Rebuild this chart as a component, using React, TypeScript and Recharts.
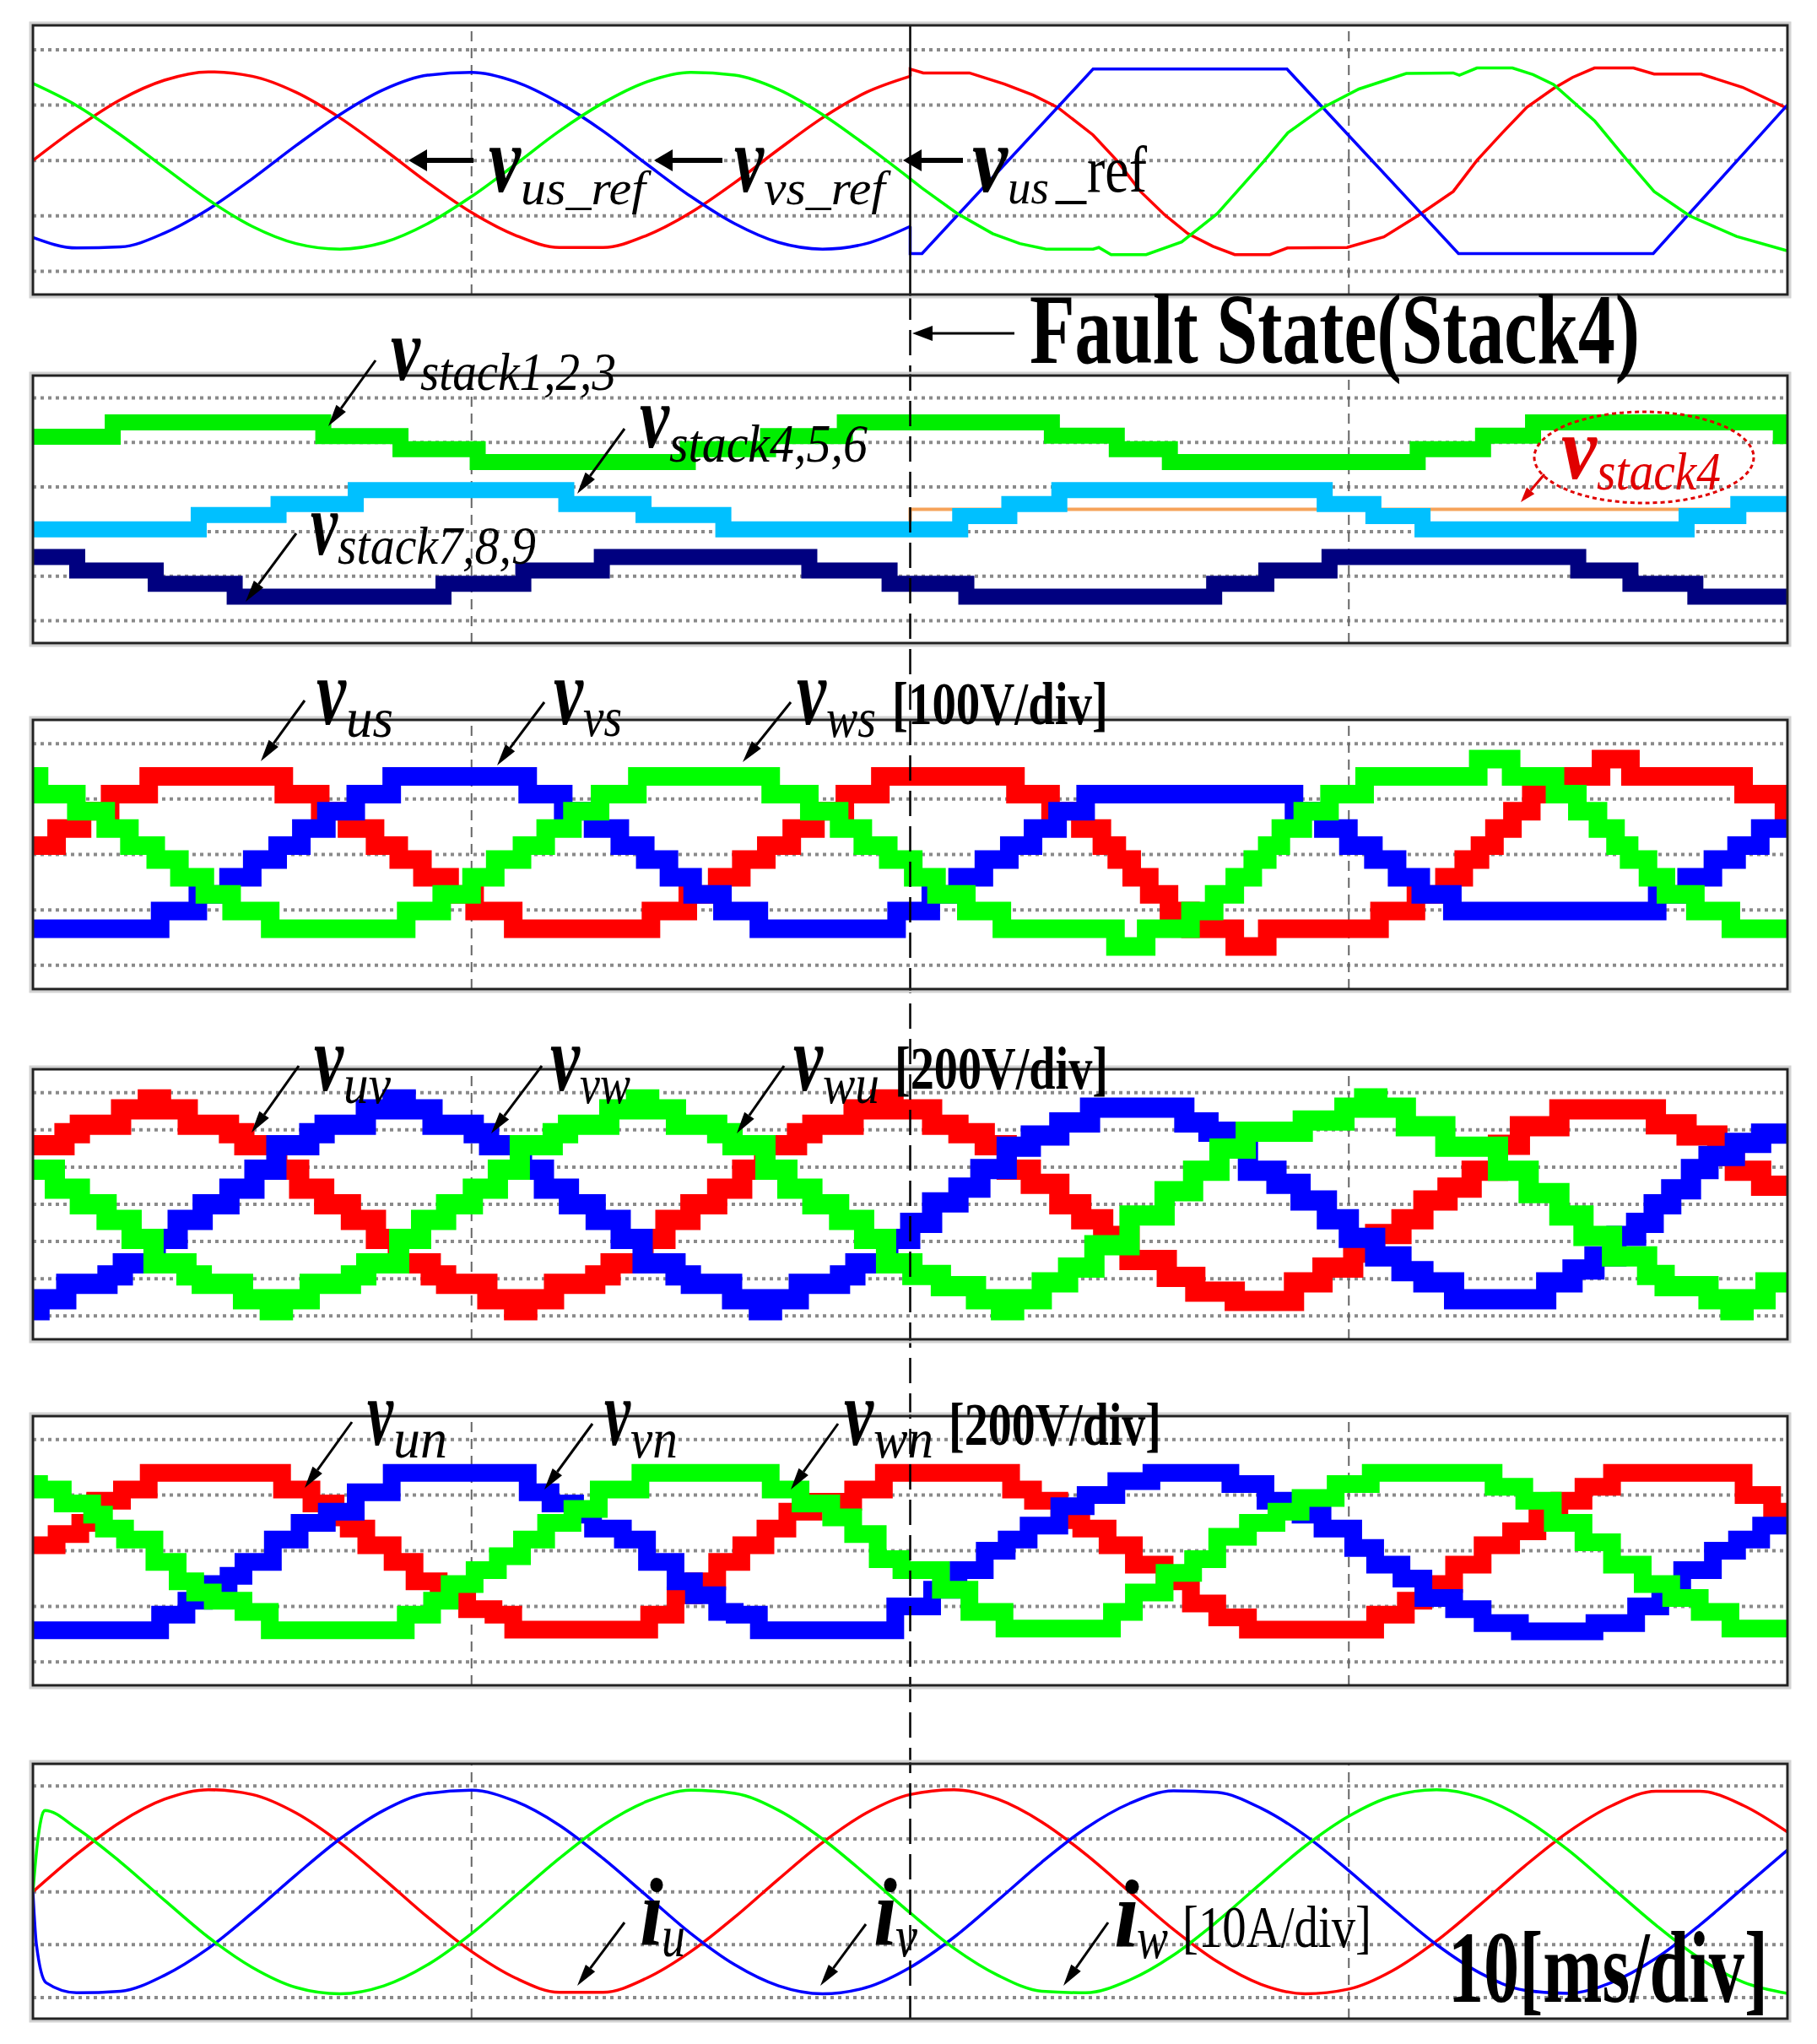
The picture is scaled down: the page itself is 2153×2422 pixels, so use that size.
import React from 'react';
import { LineChart, Line, XAxis, YAxis, ReferenceLine } from 'recharts';

// time in ms (10 ms/div), values in divisions of each panel

// panel 1: voltage references
const P1_U_PRE = [[0,0],[1,0.59],[2,1.1],[3,1.45],[4,1.6],[5,1.52],[6,1.23],[7,0.77],[8,0.2],[9,-0.4],[10,-0.94],[11,-1.35],[12,-1.57],[13,-1.57],[14,-1.35],[15,-0.94],[16,-0.4],[17,0.2],[18,0.77],[19,1.23],[20,1.52]];
const P1_V_PRE = [[0,-1.39],[1,-1.58],[2,-1.56],[3,-1.31],[4,-0.88],[5,-0.33],[6,0.27],[7,0.83],[8,1.28],[9,1.54],[10,1.59],[11,1.42],[12,1.04],[13,0.53],[14,-0.07],[15,-0.65],[16,-1.14],[17,-1.48],[18,-1.6],[19,-1.5],[20,-1.19]];
const P1_W_PRE = [[0,1.39],[1,0.99],[2,0.46],[3,-0.13],[4,-0.71],[5,-1.19],[6,-1.5],[7,-1.6],[8,-1.48],[9,-1.14],[10,-0.65],[11,-0.07],[12,0.53],[13,1.04],[14,1.42],[15,1.59],[16,1.54],[17,1.28],[18,0.83],[19,0.27],[20,-0.33]];
const P1_U_POST = [[20,1.52],[20,1.65],[20.3,1.58],[21.35,1.58],[22.15,1.38],[22.8,1.18],[23.36,0.96],[24.17,0.46],[24.71,0],[25.25,-0.56],[25.8,-0.98],[26.33,-1.32],[26.9,-1.55],[27.4,-1.7],[28.2,-1.7],[28.6,-1.58],[29.96,-1.57],[30.8,-1.38],[31.57,-1.0],[32.38,-0.56],[32.92,0],[33.5,0.5],[34.06,0.96],[34.67,1.3],[35.1,1.5],[35.6,1.67],[36.49,1.67],[36.96,1.56],[38.03,1.56],[38.98,1.32],[39.95,0.96],[40,0.93]];
const P1_V_POST = [[20,-1.19],[20,-1.68],[20.27,-1.68],[24.17,1.65],[28.59,1.65],[32.5,-1.68],[36.94,-1.68],[39.95,0.96],[40,1.0]];
const P1_W_POST = [[20,-0.33],[20.27,-0.5],[21.08,-0.96],[21.88,-1.32],[22.5,-1.5],[23.1,-1.6],[24.17,-1.6],[24.3,-1.57],[24.58,-1.7],[25.38,-1.7],[26.19,-1.47],[27.0,-0.96],[28.08,0],[28.61,0.5],[29.42,0.96],[30.23,1.29],[31.31,1.57],[32.38,1.58],[32.52,1.54],[32.92,1.67],[33.73,1.67],[34.2,1.55],[34.67,1.37],[35.61,0.71],[36.35,0],[36.96,-0.56],[37.77,-1.0],[38.84,-1.37],[39.95,-1.62],[40,-1.63]];

// panel 2: stack voltages (step levels)
const P2_STACK123 = [[0,4.63],[1.82,4.95],[6.62,4.64],[8.38,4.35],[10.14,4.06],[14.93,4.35],[16.76,4.64],[18.51,4.95],[23.23,4.65],[24.71,4.35],[25.92,4.06],[31.57,4.35],[33.06,4.65],[34.2,4.95],[39.85,4.64],[40,4.64]];
const P2_STACK456 = [[0,2.55],[3.78,2.87],[5.6,3.12],[7.36,3.43],[12.16,3.12],[13.92,2.87],[15.74,2.55],[21.14,2.85],[22.26,3.12],[23.4,3.43],[29.45,3.12],[30.56,2.85],[31.68,2.55],[37.7,2.85],[38.88,3.12],[40,3.12]];
const P2_STACK789 = [[0,1.93],[1.01,1.63],[2.8,1.33],[4.6,1.04],[9.36,1.33],[11.18,1.63],[12.97,1.93],[17.7,1.63],[19.53,1.33],[21.28,1.04],[26.93,1.33],[28.12,1.63],[29.56,1.93],[35.23,1.63],[36.42,1.33],[37.9,1.04],[40,1.04]];
const P2_STACK4 = [[20,2.6],[20,3.0],[40,3.0]];

// panel 3: phase voltages v_us, v_vs, v_ws (100 V/div)
const P3_US = [[0,0.16],[0.54,0.47],[1.12,0.78],[1.76,1.09],[2.64,1.41],[5.72,1.09],[6.55,0.78],[7.16,0.47],[7.8,0.16],[8.34,-0.09],[8.88,-0.41],[9.5,-0.72],[10.07,-1.02],[10.95,-1.34],[14.09,-1.02],[14.93,-0.72],[15.6,-0.41],[16.15,-0.09],[16.72,0.16],[17.3,0.47],[17.84,0.78],[18.51,1.09],[19.32,1.41],[22.4,1.09],[23.2,0.78],[23.88,0.47],[24.37,0.16],[24.71,-0.09],[25.05,-0.41],[25.45,-0.72],[25.9,-1.02],[26.39,-1.34],[27.4,-1.66],[28.14,-1.34],[30.7,-1.02],[31.53,-0.72],[32.18,-0.41],[32.62,-0.09],[32.99,0.16],[33.32,0.47],[33.73,0.78],[34.16,1.09],[34.74,1.41],[35.75,1.72],[36.42,1.41],[39.0,1.09],[39.92,0.78],[40,0.78]];
const P3_VS = [[0,-1.34],[2.9,-1.02],[3.76,-0.72],[4.46,-0.41],[5.0,-0.09],[5.58,0.16],[6.12,0.47],[6.69,0.78],[7.36,1.09],[8.18,1.41],[11.28,1.09],[12.09,0.78],[12.77,0.47],[13.38,0.16],[13.96,-0.09],[14.5,-0.41],[15.04,-0.72],[15.72,-1.02],[16.55,-1.34],[19.69,-1.02],[20.47,-0.72],[21.08,-0.41],[21.68,-0.09],[22.26,0.16],[22.8,0.47],[23.36,0.78],[24.0,1.09],[28.75,0.78],[29.42,0.47],[29.99,0.16],[30.56,-0.09],[31.1,-0.41],[31.64,-0.72],[32.36,-1.02],[37.03,-0.72],[37.7,-0.41],[38.3,-0.09],[38.84,0.16],[39.38,0.47],[40,0.47]];
const P3_WS = [[0,1.41],[0.14,1.09],[0.99,0.78],[1.66,0.47],[2.2,0.16],[2.8,-0.09],[3.34,-0.41],[3.92,-0.72],[4.53,-1.02],[5.41,-1.34],[8.51,-1.02],[9.32,-0.72],[10.0,-0.41],[10.54,-0.09],[11.15,0.16],[11.69,0.47],[12.3,0.78],[12.93,1.09],[13.78,1.41],[16.82,1.09],[17.7,0.78],[18.38,0.47],[18.92,0.16],[19.5,-0.09],[20.07,-0.41],[20.6,-0.72],[21.28,-1.02],[22.09,-1.34],[24.68,-1.66],[25.38,-1.34],[26.39,-1.02],[26.93,-0.72],[27.4,-0.41],[27.81,-0.09],[28.14,0.16],[28.45,0.47],[28.95,0.78],[29.56,1.09],[30.36,1.41],[32.95,1.72],[33.7,1.41],[34.7,1.09],[35.21,0.78],[35.68,0.47],[36.08,0.16],[36.39,-0.09],[36.82,-0.41],[37.23,-0.72],[37.9,-1.02],[38.71,-1.34],[40,-1.34]];

// panel 4: line voltages v_uv, v_vw, v_wu (200 V/div)
const P4_UV = [[0,1.59],[0.72,1.91],[1.07,2.14],[2.01,2.55],[2.62,2.82],[2.92,2.55],[3.53,2.14],[4.47,1.91],[4.82,1.59],[5.57,0.93],[6.07,0.42],[6.64,0],[7.25,-0.42],[7.82,-0.93],[8.32,-1.59],[9.07,-1.91],[9.42,-2.14],[10.36,-2.55],[10.97,-2.85],[11.27,-2.55],[11.88,-2.14],[12.82,-1.91],[13.17,-1.59],[13.92,-0.93],[14.42,-0.42],[14.99,0],[15.6,0.42],[16.17,0.93],[16.67,1.59],[17.42,1.91],[17.77,2.14],[18.71,2.55],[19.32,2.82],[19.62,2.55],[20.5,2.14],[21.1,1.91],[21.7,1.59],[22.2,0.93],[22.75,0.55],[23.4,0],[23.9,-0.4],[24.4,-0.85],[25.0,-1.5],[25.85,-1.95],[26.5,-2.35],[27.4,-2.6],[28.75,-2.1],[29.4,-1.7],[30.1,-1.3],[30.6,-0.8],[31.2,-0.4],[31.7,0.1],[32.25,0.45],[32.8,0.9],[33.4,1.6],[33.9,2.1],[34.8,2.55],[37.0,2.15],[37.7,1.85],[38.4,1.3],[38.8,0.9],[39.4,0.5],[40,0.5]];
const P4_VW = [[0,-2.85],[0.15,-2.55],[0.76,-2.14],[1.7,-1.91],[2.05,-1.59],[2.8,-0.93],[3.3,-0.42],[3.87,0],[4.48,0.42],[5.05,0.93],[5.55,1.59],[6.3,1.91],[6.65,2.14],[7.59,2.55],[8.2,2.82],[8.5,2.55],[9.11,2.14],[10.05,1.91],[10.4,1.59],[11.15,0.93],[11.65,0.42],[12.22,0],[12.83,-0.42],[13.4,-0.93],[13.9,-1.59],[14.65,-1.91],[15.0,-2.14],[15.94,-2.55],[16.55,-2.85],[16.85,-2.55],[17.46,-2.14],[18.4,-1.91],[18.75,-1.59],[19.5,-0.93],[20,-0.5],[20.5,0.05],[21.1,0.45],[21.6,0.95],[22.2,1.55],[22.75,1.85],[23.4,2.2],[24.1,2.6],[26.25,2.2],[26.8,1.95],[27.3,1.55],[27.7,0.9],[28.35,0.55],[28.9,0.1],[29.5,-0.4],[30.0,-0.9],[30.6,-1.4],[31.2,-1.8],[31.7,-2.1],[32.4,-2.55],[34.5,-2.1],[35.1,-1.75],[35.6,-1.4],[36.1,-0.85],[36.55,-0.5],[36.95,0],[37.35,0.4],[37.8,0.95],[38.2,1.3],[38.8,1.65],[39.4,1.9],[40,1.9]];
const P4_WU = [[0,0.93],[0.5,0.42],[1.07,0],[1.68,-0.42],[2.25,-0.93],[2.75,-1.59],[3.5,-1.91],[3.85,-2.14],[4.79,-2.55],[5.4,-2.85],[5.7,-2.55],[6.31,-2.14],[7.25,-1.91],[7.6,-1.59],[8.35,-0.93],[8.85,-0.42],[9.42,0],[10.03,0.42],[10.6,0.93],[11.1,1.59],[11.85,1.91],[12.2,2.14],[13.14,2.55],[13.75,2.82],[14.05,2.55],[14.66,2.14],[15.6,1.91],[15.95,1.59],[16.7,0.93],[17.2,0.42],[17.77,0],[18.38,-0.42],[18.95,-0.93],[19.45,-1.59],[20.05,-1.9],[20.7,-2.2],[21.5,-2.55],[22.07,-2.85],[22.37,-2.55],[23.0,-2.1],[23.6,-1.7],[24.2,-1.1],[25.0,-0.3],[25.8,0.35],[26.45,0.9],[27.05,1.5],[27.65,1.95],[28.95,2.25],[29.9,2.6],[30.35,2.85],[30.65,2.6],[31.3,2.1],[32.2,1.55],[33.4,0.9],[34.1,0.3],[34.8,-0.3],[35.35,-0.85],[36.0,-1.4],[36.8,-1.9],[37.2,-2.2],[38.2,-2.55],[38.7,-2.85],[39.0,-2.55],[39.5,-2.1],[40,-2.1]];

// panel 5: phase-to-neutral voltages v_un, v_vn, v_wn (200 V/div)
const P5_UN = [[0,0.1],[0.54,0.3],[1.08,0.5],[1.42,0.9],[2.03,1.1],[2.64,1.4],[5.68,1.1],[6.35,0.85],[6.9,0.6],[7.2,0.4],[7.6,0.1],[8.2,-0.2],[8.7,-0.55],[9.25,-0.8],[9.9,-1.05],[10.5,-1.15],[10.95,-1.42],[14.05,-1.15],[14.65,-0.8],[15.07,-0.55],[15.6,-0.2],[16.15,0.1],[16.7,0.4],[17.2,0.7],[17.8,0.88],[18.7,1.1],[19.4,1.4],[22.3,1.1],[22.8,0.9],[23.4,0.55],[23.9,0.4],[24.5,0.1],[25.1,-0.25],[25.8,-0.55],[26.4,-0.95],[27.0,-1.2],[27.7,-1.42],[30.6,-1.15],[31.3,-0.9],[31.7,-0.6],[32.4,-0.25],[33.05,0.1],[33.7,0.35],[34.3,0.65],[34.8,0.9],[35.35,1.15],[36.0,1.4],[39.0,1.0],[39.65,0.7],[40,0.7]];
const P5_VN = [[0,-1.43],[2.9,-1.15],[3.5,-0.9],[3.9,-0.6],[4.46,-0.45],[4.8,-0.2],[5.47,0.2],[6.08,0.5],[6.7,0.7],[7.36,1.05],[8.18,1.4],[11.28,1.05],[11.8,0.85],[12.36,0.65],[12.77,0.4],[13.45,0.2],[14.0,-0.2],[14.65,-0.55],[15.07,-0.8],[15.6,-1.1],[16.0,-1.15],[16.55,-1.43],[19.66,-1.0],[20.5,-0.7],[21.1,-0.35],[21.7,0.0],[22.2,0.2],[22.7,0.45],[23.4,0.8],[24.0,1.0],[24.7,1.25],[25.5,1.4],[27.3,1.2],[28.1,0.9],[28.9,0.65],[29.4,0.4],[30.1,0.05],[30.6,-0.25],[31.2,-0.5],[31.7,-0.85],[32.4,-1.05],[33.05,-1.3],[33.9,-1.45],[35.6,-1.3],[36.55,-1.0],[37.1,-0.75],[37.6,-0.35],[38.3,0.0],[38.85,0.2],[39.4,0.45],[40,0.45]];
const P5_WN = [[0,1.2],[0.14,1.1],[0.68,0.85],[1.35,0.65],[1.62,0.4],[2.1,0.2],[2.77,-0.2],[3.3,-0.55],[3.7,-0.75],[4.1,-0.9],[4.8,-1.1],[5.4,-1.43],[8.5,-1.15],[9.1,-0.9],[9.5,-0.6],[10.07,-0.35],[10.6,-0.1],[11.15,0.2],[11.7,0.5],[12.3,0.75],[12.9,1.1],[13.85,1.4],[16.82,1.1],[17.5,0.85],[18.2,0.6],[18.7,0.3],[19.26,-0.15],[19.8,-0.35],[20.7,-0.7],[21.35,-1.1],[22.15,-1.4],[24.6,-1.1],[25.1,-0.75],[25.8,-0.4],[26.45,-0.15],[27.0,0.25],[27.7,0.5],[28.35,0.7],[28.9,0.95],[29.7,1.2],[30.5,1.4],[33.3,1.15],[34.0,0.9],[34.65,0.5],[35.35,0.15],[36.0,-0.25],[36.7,-0.6],[37.35,-0.85],[38.0,-1.1],[38.7,-1.4],[40,-1.4]];

// panel 6: phase currents (10 A/div)
const P6_IU = [[0,0],[1,0.71],[2,1.32],[3,1.75],[4,1.93],[5,1.84],[6,1.49],[7,0.93],[8,0.24],[9,-0.48],[10,-1.13],[11,-1.63],[12,-1.9],[13,-1.9],[14,-1.63],[15,-1.13],[16,-0.48],[17,0.24],[18,0.93],[19,1.49],[20,1.84],[21,1.93],[22,1.75],[23,1.32],[24,0.71],[25,0],[26,-0.71],[27,-1.32],[28,-1.75],[29,-1.93],[30,-1.84],[31,-1.49],[32,-0.93],[33,-0.24],[34,0.48],[35,1.13],[36,1.63],[37,1.9],[38,1.9],[39,1.63],[40,1.13]];
const P6_IV = [[0,0],[0.08,-1.0],[0.3,-1.72],[1,-1.91],[2,-1.88],[3,-1.58],[4,-1.07],[5,-0.4],[6,0.32],[7,1.0],[8,1.54],[9,1.86],[10,1.92],[11,1.71],[12,1.26],[13,0.63],[14,-0.08],[15,-0.79],[16,-1.38],[17,-1.78],[18,-1.93],[19,-1.81],[20,-1.43],[21,-0.86],[22,-0.16],[23,0.56],[24,1.2],[25,1.67],[26,1.91],[27,1.88],[28,1.58],[29,1.07],[30,0.4],[31,-0.32],[32,-1.0],[33,-1.54],[34,-1.86],[35,-1.92],[36,-1.71],[37,-1.26],[38,-0.63],[39,0.08],[40,0.79]];
const P6_IW = [[0,0],[0.1,0.9],[0.27,1.54],[1,1.2],[2,0.56],[3,-0.16],[4,-0.86],[5,-1.43],[6,-1.81],[7,-1.93],[8,-1.78],[9,-1.38],[10,-0.79],[11,-0.08],[12,0.63],[13,1.26],[14,1.71],[15,1.92],[16,1.86],[17,1.54],[18,1.0],[19,0.32],[20,-0.4],[21,-1.07],[22,-1.58],[23,-1.88],[24,-1.91],[25,-1.67],[26,-1.2],[27,-0.56],[28,0.16],[29,0.86],[30,1.43],[31,1.81],[32,1.93],[33,1.78],[34,1.38],[35,0.79],[36,0.08],[37,-0.63],[38,-1.26],[39,-1.71],[40,-1.92]];

const RED = '#ff0000';
const GREEN = '#00ff00';
const BLUE = '#0000ff';
const SERIF = '"Liberation Serif", "Times New Roman", "DejaVu Serif", serif';

const PLOT_X = 39;
const PLOT_W = 2079;
const FAULT_X = PLOT_X + PLOT_W / 2;

const PANELS = [
  { top: 30, height: 319, domain: [-2.42, 2.44], hLines: [-2, -1, 0, 1, 2] },
  { top: 445, height: 317, domain: [0, 6], hLines: [0.5, 1.5, 2.5, 3.5, 4.5, 5.5] },
  { top: 853, height: 319, domain: [-2.43, 2.43], hLines: [-2, -1, 0, 1, 2] },
  { top: 1267, height: 320, domain: [-3.63, 3.63], hLines: [-3, -2, -1, 0, 1, 2, 3] },
  { top: 1678, height: 319, domain: [-2.42, 2.42], hLines: [-2, -1, 0, 1, 2] },
  { top: 2090, height: 302, domain: [-2.4, 2.42], hLines: [-2, -1, 0, 1, 2] },
];

const pts = (a: number[][]) => a.map(([t, v]) => ({ t, v }));

function trace(key: string, data: number[][], color: string, width: number, type: any) {
  return (
    <Line
      key={key}
      data={pts(data)}
      dataKey="v"
      type={type}
      stroke={color}
      strokeWidth={width}
      strokeLinejoin="miter"
      dot={false}
      activeDot={false}
      isAnimationActive={false}
    />
  );
}

function Panel({ index, children }: { index: number; children: React.ReactNode }) {
  const p = PANELS[index];
  return (
    <div style={{ position: 'absolute', left: PLOT_X, top: p.top }}>
      <LineChart width={PLOT_W} height={p.height} margin={{ top: 0, right: 0, bottom: 0, left: 0 }}>
        <XAxis type="number" dataKey="t" domain={[0, 40]} hide allowDataOverflow />
        <YAxis type="number" domain={p.domain} hide allowDataOverflow />
        {p.hLines.map((y) => (
          <ReferenceLine key={y} y={y} stroke="#8a8a8a" strokeWidth={4} strokeDasharray="4 5" />
        ))}
        <ReferenceLine x={10} stroke="#666" strokeWidth={2} strokeDasharray="12 8" />
        <ReferenceLine x={30} stroke="#666" strokeWidth={2} strokeDasharray="12 8" />
        {children}
      </LineChart>
    </div>
  );
}

function Arrow({ x1, y1, x2, y2, w = 3, head = 26, half = 7, color = '#000' }: any) {
  const a = Math.atan2(y2 - y1, x2 - x1);
  const bx = x2 - head * Math.cos(a);
  const by = y2 - head * Math.sin(a);
  const px = -Math.sin(a) * half;
  const py = Math.cos(a) * half;
  return (
    <g>
      <line x1={x1} y1={y1} x2={bx} y2={by} stroke={color} strokeWidth={w} />
      <polygon points={`${x2},${y2} ${bx + px},${by + py} ${bx - px},${by - py}`} fill={color} />
    </g>
  );
}

function Txt({ x, y, s, w, italic = false, bold = false, color = '#000', children }: any) {
  return (
    <text
      x={x}
      y={y}
      fontSize={s}
      textLength={w}
      lengthAdjust="spacingAndGlyphs"
      fontFamily={SERIF}
      fontStyle={italic ? 'italic' : 'normal'}
      fontWeight={bold ? 'bold' : 'normal'}
      fill={color}
    >
      {children}
    </text>
  );
}

// big italic symbol with italic subscript
function Sym({ x, y, w, sub, sx, sy, sw, main = 'v', s = 112, ss = 66, color = '#000' }: any) {
  return (
    <g>
      <Txt x={x} y={y} s={s} w={w} italic bold color={color}>{main}</Txt>
      <Txt x={sx} y={sy} s={ss} w={sw} italic color={color}>{sub}</Txt>
    </g>
  );
}

export default function App() {
  return (
    <div style={{ position: 'relative', width: 2153, height: 2422, background: '#fff', overflow: 'hidden' }}>
      <style>{'body{margin:0;}'}</style>

      <Panel index={0}>
        {trace('u1', P1_U_PRE, RED, 3.5, 'monotone')}
        {trace('v1', P1_V_PRE, BLUE, 3.5, 'monotone')}
        {trace('w1', P1_W_PRE, GREEN, 3.5, 'monotone')}
        {trace('u2', P1_U_POST, RED, 3.5, 'linear')}
        {trace('v2', P1_V_POST, BLUE, 3.5, 'linear')}
        {trace('w2', P1_W_POST, GREEN, 3.5, 'linear')}
      </Panel>

      <Panel index={1}>
        {trace('s4', P2_STACK4, '#f6a35a', 4, 'linear')}
        {trace('s456', P2_STACK456, '#00c0ff', 19, 'stepAfter')}
        {trace('s123', P2_STACK123, '#00ee00', 19, 'stepAfter')}
        {trace('s789', P2_STACK789, '#000080', 19, 'stepAfter')}
      </Panel>

      <Panel index={2}>
        {trace('us', P3_US, RED, 22, 'stepAfter')}
        {trace('vs', P3_VS, BLUE, 22, 'stepAfter')}
        {trace('ws', P3_WS, GREEN, 22, 'stepAfter')}
      </Panel>

      <Panel index={3}>
        {trace('uv', P4_UV, RED, 24, 'stepAfter')}
        {trace('vw', P4_VW, BLUE, 24, 'stepAfter')}
        {trace('wu', P4_WU, GREEN, 24, 'stepAfter')}
      </Panel>

      <Panel index={4}>
        {trace('un', P5_UN, RED, 21, 'stepAfter')}
        {trace('vn', P5_VN, BLUE, 21, 'stepAfter')}
        {trace('wn', P5_WN, GREEN, 21, 'stepAfter')}
      </Panel>

      <Panel index={5}>
        {trace('iu', P6_IU, RED, 3.5, 'monotone')}
        {trace('iv', P6_IV, BLUE, 3.5, 'monotone')}
        {trace('iw', P6_IW, GREEN, 3.5, 'monotone')}
      </Panel>

      <svg width={2153} height={2422} style={{ position: 'absolute', left: 0, top: 0, pointerEvents: 'none' }}>
        {/* fault instant */}
        <line x1={FAULT_X} y1={30} x2={FAULT_X} y2={349} stroke="#000" strokeWidth={2.5} />
        <line x1={FAULT_X} y1={349} x2={FAULT_X} y2={2392} stroke="#000" strokeWidth={2.5} strokeDasharray="30 12" />

        {/* panel frames */}
        {PANELS.map((p, i) => (
          <g key={i}>
            <rect x={PLOT_X - 3} y={p.top - 3} width={PLOT_W + 6} height={p.height + 6} fill="none" stroke="#d2d2d2" strokeWidth={3} />
            <rect x={PLOT_X} y={p.top} width={PLOT_W} height={p.height} fill="none" stroke="#222" strokeWidth={3} />
          </g>
        ))}

        {/* panel 1 */}
        <Arrow x1={561} y1={190} x2={484} y2={190} w={6} head={22} half={13} />
        <Sym x={579} y={227} w={38} sub="us_ref" sx={617} sy={242} sw={148} ss={58} />
        <Arrow x1={856} y1={190} x2={775} y2={190} w={6} head={22} half={13} />
        <Sym x={870} y={227} w={35} sub="vs_ref" sx={905} sy={242} sw={144} ss={58} />
        <Arrow x1={1141} y1={190} x2={1070} y2={190} w={6} head={22} half={13} />
        <Sym x={1152} y={227} w={42} sub="us" sx={1194} sy={241} sw={49} ss={58} />
        <Txt x={1251} y={232} s={78} w={36}>_</Txt>
        <Txt x={1288} y={227} s={78} w={71}>ref</Txt>

        {/* fault label */}
        <Arrow x1={1202} y1={395} x2={1081} y2={395} w={3} head={24} half={9} />
        <Txt x={1220} y={430} s={118} w={723} bold>Fault State(Stack4)</Txt>

        {/* panel 2 */}
        <Arrow x1={445} y1={427} x2={389} y2={505} />
        <Sym x={463} y={450} w={35} s={105} sub="stack1,2,3" sx={498} sy={462} sw={232} ss={64} />
        <Arrow x1={740} y1={508} x2={684} y2={585} />
        <Sym x={758} y={530} w={35} s={105} sub="stack4,5,6" sx={793} sy={547} sw={235} ss={64} />
        <Arrow x1={351} y1={632} x2={291} y2={713} />
        <Sym x={368} y={657} w={32} s={105} sub="stack7,8,9" sx={400} sy={668} sw={235} ss={64} />
        <ellipse cx={1948} cy={542} rx={130} ry={54} fill="none" stroke="#e00000" strokeWidth={3} strokeDasharray="5 4" />
        <Sym x={1850} y={567} w={42} s={105} sub="stack4" sx={1892} sy={580} sw={147} ss={64} color="#e00000" />
        <Arrow x1={1830} y1={562} x2={1802} y2={595} color="#e00000" head={18} half={6} />

        {/* panel 3 */}
        <Arrow x1={361} y1={830} x2={309} y2={902} />
        <Sym x={375} y={858} w={35} sub="us" sx={410} sy={873} sw={56} />
        <Arrow x1={645} y1={832} x2={589} y2={907} />
        <Sym x={656} y={858} w={35} sub="vs" sx={691} sy={872} sw={46} />
        <Arrow x1={937} y1={832} x2={880} y2={903} />
        <Sym x={944} y={858} w={35} sub="ws" sx={979} sy={873} sw={59} />
        <Txt x={1057} y={858} s={72} w={256} bold>[100V/div]</Txt>

        {/* panel 4 */}
        <Arrow x1={354} y1={1263} x2={298} y2={1342} />
        <Sym x={372} y={1292} w={35} sub="uv" sx={407} sy={1307} sw={56} />
        <Arrow x1={642} y1={1263} x2={582} y2={1343} />
        <Sym x={652} y={1292} w={35} sub="vw" sx={687} sy={1307} sw={60} />
        <Arrow x1={929} y1={1263} x2={873} y2={1343} />
        <Sym x={940} y={1292} w={35} sub="wu" sx={975} sy={1307} sw={67} />
        <Txt x={1060} y={1290} s={72} w={253} bold>[200V/div]</Txt>

        {/* panel 5 */}
        <Arrow x1={417} y1={1685} x2={361} y2={1763} />
        <Sym x={435} y={1712} w={31} sub="un" sx={466} sy={1727} sw={64} />
        <Arrow x1={702} y1={1687} x2={645} y2={1765} />
        <Sym x={716} y={1712} w={31} sub="vn" sx={747} sy={1727} sw={56} />
        <Arrow x1={993} y1={1687} x2={937} y2={1765} />
        <Sym x={1000} y={1712} w={35} sub="wn" sx={1035} sy={1727} sw={71} />
        <Txt x={1124} y={1712} s={72} w={252} bold>[200V/div]</Txt>

        {/* panel 6 */}
        <Arrow x1={740} y1={2278} x2={684} y2={2353} />
        <Sym main="i" x={758} y={2305} w={28} sub="u" sx={784} sy={2318} sw={28} s={115} ss={70} />
        <Arrow x1={1026} y1={2280} x2={972} y2={2353} />
        <Sym main="i" x={1035} y={2305} w={28} sub="v" sx={1061} sy={2318} sw={26} s={115} ss={70} />
        <Arrow x1={1313} y1={2278} x2={1260} y2={2353} />
        <Sym main="i" x={1320} y={2307} w={30} sub="w" sx={1347} sy={2320} sw={37} s={115} ss={70} />
        <Txt x={1401} y={2307} s={70} w={224}>[10A/div]</Txt>
        <Txt x={1716} y={2372} s={120} w={379} bold>10[ms/div]</Txt>
      </svg>
    </div>
  );
}
